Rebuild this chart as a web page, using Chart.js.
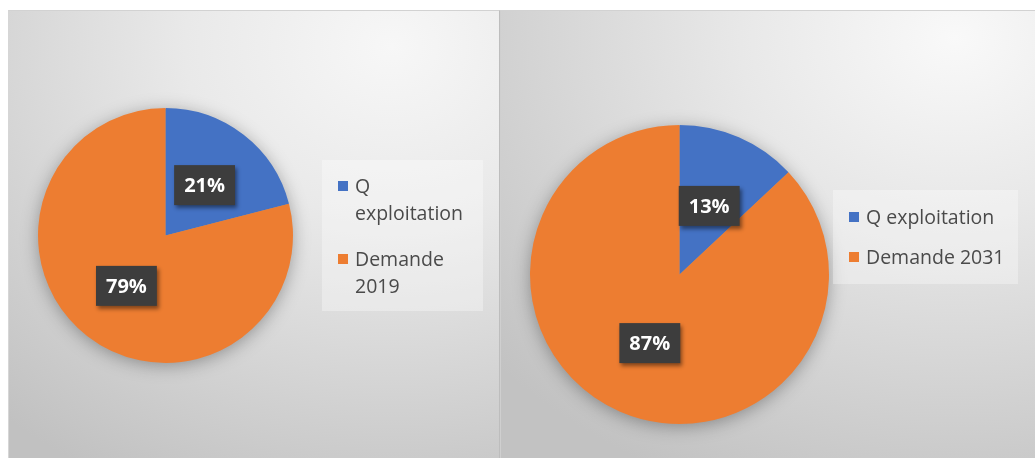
<!DOCTYPE html>
<html>
<head>
<meta charset="utf-8">
<script src="https://cdn.jsdelivr.net/npm/chart.js@4"></script>
<style>
  body { margin: 0; background: #fff; width: 1035px; height: 458px; overflow: hidden; position: relative; font-family: "Open Sans", sans-serif; }
  .panel { position: absolute; top: 10px; height: 448px; box-sizing: border-box; border-top: 1px solid #d2d2d2; }
  #leftPanel { left: 8px; width: 492px; border-left: 1px solid #d6d6d6; border-right: 1px solid #bdbdbd;
    background: radial-gradient(ellipse 120% 110% at 78% 8%, #f7f7f7 0%, #e9e9e9 35%, #c1c1c1 100%); }
  #rightPanel { left: 500px; width: 535px; border-left: 1px solid #cfcfcf;
    background: radial-gradient(ellipse 115% 110% at 85% 6%, #f9f9f9 0%, #e8e8e8 35%, #c2c2c2 100%); }
  .panel canvas { position: absolute; left: 0; top: 0; }
  .legend { position: absolute; background: rgba(255,255,255,0.33); color: #4a4a4a; font-size: 19.5px; box-sizing: border-box; }
  .legend .item { position: relative; padding-left: 33px; }
  .legend .txt { display: block; }
  .legend .sw { position: absolute; left: 16px; width: 10px; height: 10px; }
</style>
</head>
<body>
<div class="panel" id="leftPanel"><canvas id="pieLeft"></canvas><div class="legend" id="legLeft"></div></div>
<div class="panel" id="rightPanel"><canvas id="pieRight"></canvas><div class="legend" id="legRight"></div></div>
<script>
// Share of exploitable flow vs. demand, 2019 and 2031
const labelsLeft = ['Q exploitation', 'Demande 2019'];
const valuesLeft = [21, 79];
const labelsRight = ['Q exploitation', 'Demande 2031'];
const valuesRight = [13, 87];
const sliceColors = ['#4472C4', '#ED7D31'];

// soft shadow under the whole pie
const pieShadow = {
    id: 'pieShadow',
    beforeDatasetsDraw(chart) {
        const arc = chart.getDatasetMeta(0).data[0];
        if (!arc) return;
        const ctx = chart.ctx;
        ctx.save();
        ctx.shadowColor = 'rgba(0,0,0,0.35)';
        ctx.shadowBlur = 18;
        ctx.shadowOffsetY = 3;
        ctx.fillStyle = '#999';
        ctx.beginPath();
        ctx.arc(arc.x, arc.y, arc.outerRadius - 1, 0, Math.PI * 2);
        ctx.fill();
        ctx.restore();
    }
};

// dark percentage boxes in the middle of each slice
const pctLabels = {
    id: 'pctLabels',
    afterDatasetsDraw(chart) {
        const ctx = chart.ctx;
        const values = chart.data.datasets[0].data;
        const total = values.reduce((a, b) => a + b, 0);
        chart.getDatasetMeta(0).data.forEach((arc, i) => {
            const pos = arc.tooltipPosition();
            const text = Math.round(values[i] / total * 100) + '%';
            ctx.save();
            ctx.font = 'bold 20px "Open Sans", sans-serif';
            const w = ctx.measureText(text).width + 20;
            const h = 40;
            ctx.shadowColor = 'rgba(0,0,0,0.45)';
            ctx.shadowBlur = 4;
            ctx.shadowOffsetX = 2;
            ctx.shadowOffsetY = 3;
            ctx.fillStyle = '#3d3d3d';
            ctx.fillRect(pos.x - w / 2, pos.y - h / 2, w, h);
            ctx.shadowColor = 'transparent';
            ctx.fillStyle = '#fff';
            ctx.textAlign = 'center';
            ctx.textBaseline = 'middle';
            ctx.fillText(text, pos.x, pos.y + 1);
            ctx.restore();
        });
    }
};

function makePie(id, labels, values, padding) {
    const canvas = document.getElementById(id);
    const panel = canvas.parentElement;
    canvas.width = panel.clientWidth;
    canvas.height = panel.clientHeight;
    return new Chart(canvas.getContext('2d'), {
        type: 'pie',
        data: {
            labels: labels,
            datasets: [{
                data: values,
                backgroundColor: sliceColors,
                borderWidth: 0,
                hoverOffset: 0
            }]
        },
        options: {
            responsive: false,
            animation: false,
            layout: { padding: padding },
            plugins: {
                legend: { display: false },
                tooltip: { enabled: false }
            }
        },
        plugins: [pieShadow, pctLabels]
    });
}

// html legend so that long labels can wrap
function buildLegend(chart, id, box, textWidth, lineHeight, gap) {
    const el = document.getElementById(id);
    Object.assign(el.style, { left: box.left + 'px', top: box.top + 'px', width: box.width + 'px', height: box.height + 'px', paddingTop: box.padTop + 'px', lineHeight: lineHeight + 'px' });
    chart.data.labels.forEach((label, i) => {
        const item = document.createElement('div');
        item.className = 'item';
        item.style.marginBottom = gap + 'px';
        const sw = document.createElement('span');
        sw.className = 'sw';
        sw.style.background = sliceColors[i];
        sw.style.top = (lineHeight - 10) / 2 + 'px';
        const txt = document.createElement('span');
        txt.className = 'txt';
        txt.style.width = textWidth + 'px';
        txt.textContent = label;
        item.appendChild(sw);
        item.appendChild(txt);
        el.appendChild(item);
    });
}

const left = makePie('pieLeft', labelsLeft, valuesLeft, { left: 29, top: 97, right: 206, bottom: 95 });
const right = makePie('pieRight', labelsRight, valuesRight, { left: 29, top: 112, right: 206, bottom: 32 });

buildLegend(left, 'legLeft', { left: 313, top: 149, width: 161, height: 151, padTop: 12 }, 122, 27, 19);
buildLegend(right, 'legRight', { left: 332, top: 179, width: 185, height: 94, padTop: 13 }, 150, 28, 12);
</script>
</body>
</html>
